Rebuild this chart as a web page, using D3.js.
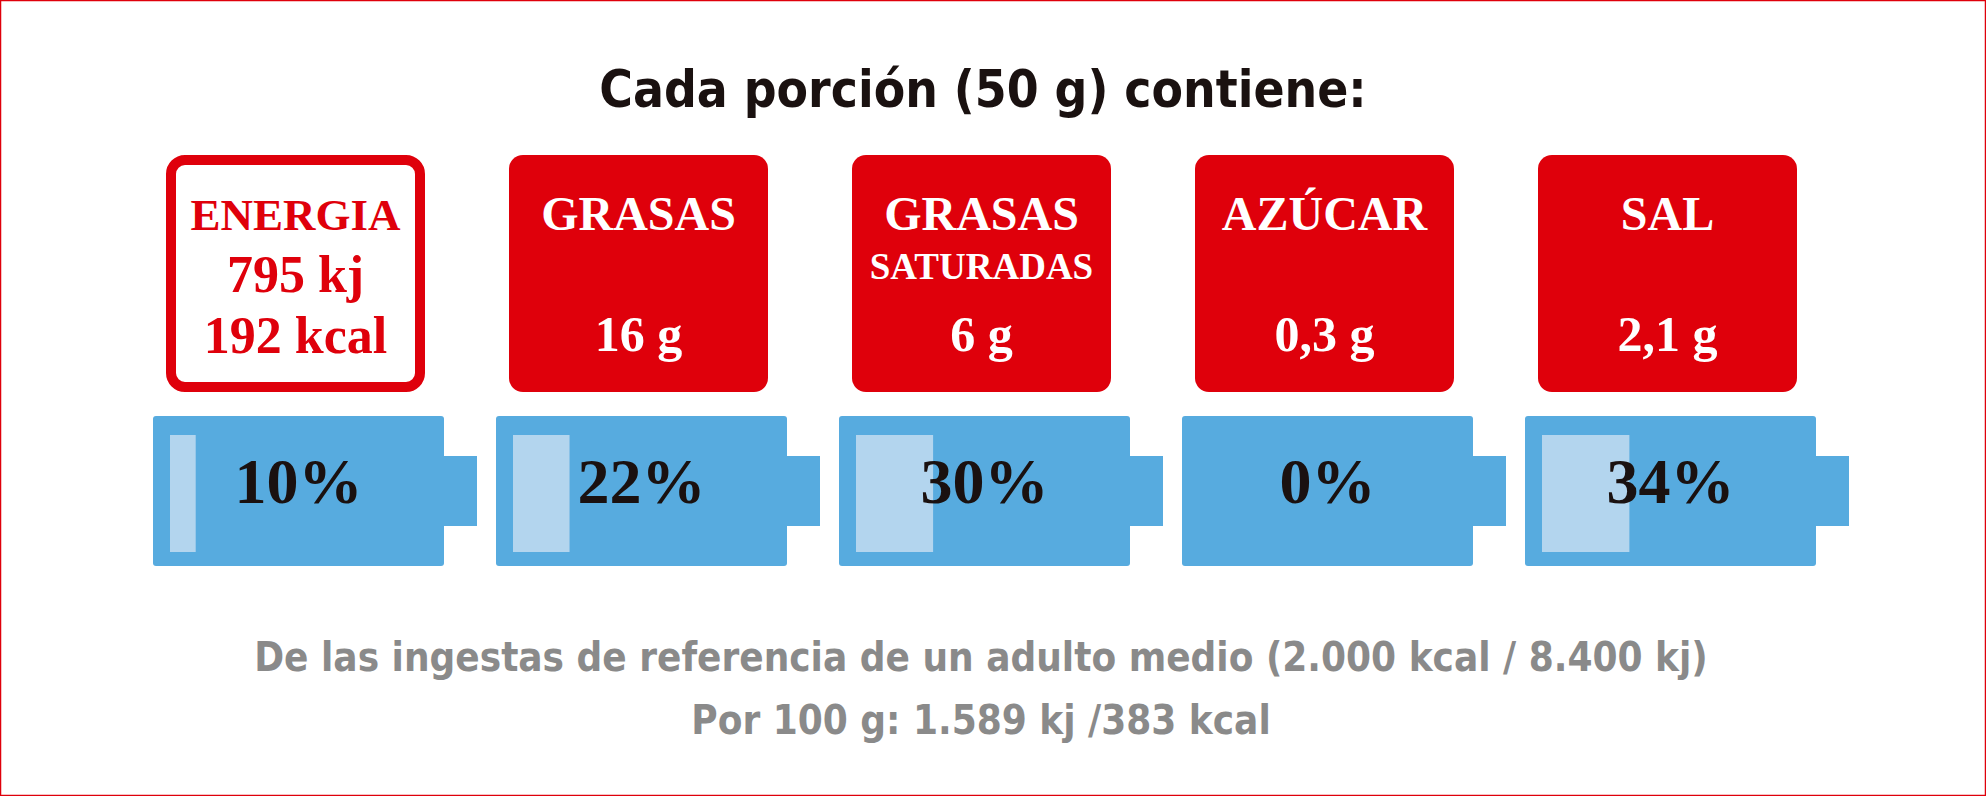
<!DOCTYPE html>
<html><head><meta charset="utf-8">
<script src="https://cdn.jsdelivr.net/npm/d3@7"></script>
<style>body{margin:0;background:#fff}svg{display:block}</style>
</head><body>
<script>
const title = "Cada porción (50 g) contiene:";
const categories = ["ENERGIA","GRASAS","GRASAS","AZÚCAR","SAL"];
const subLabels = ["", "", "SATURADAS", "", ""];
const amounts = [["795 kj","192 kcal"],["16 g"],["6 g"],["0,3 g"],["2,1 g"]];
const percents = [10, 22, 30, 0, 34];
const footer = ["De las ingestas de referencia de un adulto medio (2.000 kcal / 8.400 kj)", "Por 100 g: 1.589 kj /383 kcal"];

const W = 1986, H = 796;
const RED = "#df000b", BLUE = "#57abdf", LIGHT = "#b3d5ee";
const svg = d3.select("body").append("svg").attr("width", W).attr("height", H);
svg.append("rect").attr("x",0.5).attr("y",0.5).attr("width",W-1).attr("height",H-1).attr("fill","none").attr("stroke",RED).attr("stroke-width",1.5);

const cond = "'DejaVu Sans Condensed','DejaVu Sans',sans-serif";
const serif = "'Liberation Serif','DejaVu Serif',serif";

svg.append("text").attr("x", 983).attr("y", 107).attr("text-anchor","middle")
  .attr("font-family", cond).attr("font-weight","bold").attr("font-stretch","condensed")
  .attr("font-size", 51).attr("fill","#1a1110").text(title);

const idx = d3.range(categories.length);
const x = d3.scalePoint().domain(idx).range([153, 1525]);
const bodyW = 291, bodyH = 150, batY = 416;
const fill = d3.scaleLinear().domain([0,100]).range([0, bodyW - 34]);

const g = svg.selectAll("g.item").data(idx).join("g").attr("class","item");

g.append("rect")
  .attr("x", i => x(i) + 13 + (i===0?5:0)).attr("y", i => 155 + (i===0?5:0))
  .attr("width", i => 259 - (i===0?10:0)).attr("height", i => 237 - (i===0?10:0))
  .attr("rx", 14)
  .attr("fill", i => i===0 ? "#fff" : RED)
  .attr("stroke", i => i===0 ? RED : "none").attr("stroke-width", 10);

const cx = i => x(i) + 13 + 129.5;
g.append("text").attr("x", cx).attr("y", 230).attr("text-anchor","middle")
  .attr("font-family", serif).attr("font-weight","bold").attr("font-size", i => i===0 ? 45 : 48)
  .attr("fill", i => i===0 ? RED : "#fff").text(i => categories[i]);
g.filter(i => subLabels[i]).append("text").attr("x", cx).attr("y", 279).attr("text-anchor","middle")
  .attr("font-family", serif).attr("font-weight","bold").attr("font-size", 37)
  .attr("fill","#fff").text(i => subLabels[i]);
g.each(function(i){
  const a = amounts[i];
  const sel = d3.select(this);
  if (a.length === 2) {
    sel.append("text").attr("x", cx(i)).attr("y", 292).attr("text-anchor","middle")
      .attr("font-family", serif).attr("font-weight","bold").attr("font-size", 52).attr("fill",RED).text(a[0]);
    sel.append("text").attr("x", cx(i)).attr("y", 353).attr("text-anchor","middle")
      .attr("font-family", serif).attr("font-weight","bold").attr("font-size", 52).attr("fill",RED).text(a[1]);
  } else {
    sel.append("text").attr("x", cx(i)).attr("y", 351).attr("text-anchor","middle")
      .attr("font-family", serif).attr("font-weight","bold").attr("font-size", 50).attr("fill","#fff").text(a[0]);
  }
});

g.append("rect").attr("x", i => x(i)).attr("y", batY).attr("width", bodyW).attr("height", bodyH).attr("rx", 3).attr("fill", BLUE);
g.append("rect").attr("x", i => x(i) + bodyW - 1).attr("y", batY + 40).attr("width", 34).attr("height", 70).attr("fill", BLUE);
g.append("rect").attr("x", i => x(i) + 17).attr("y", batY + 19).attr("width", i => fill(percents[i])).attr("height", 117).attr("fill", LIGHT);
g.append("text").attr("x", i => x(i) + bodyW/2).attr("y", 503).attr("text-anchor","middle")
  .attr("font-family", serif).attr("font-weight","bold").attr("font-size", 64).attr("fill","#1a1110")
  .text(i => percents[i] + "%");

svg.selectAll("text.foot").data(footer).join("text").attr("class","foot")
  .attr("x", 981).attr("y", (d,i) => 671 + i*63).attr("text-anchor","middle")
  .attr("font-family", cond).attr("font-weight","bold").attr("font-stretch","condensed")
  .attr("font-size", 40).attr("fill","#8a8a8a").text(d => d);
</script>
</body></html>
